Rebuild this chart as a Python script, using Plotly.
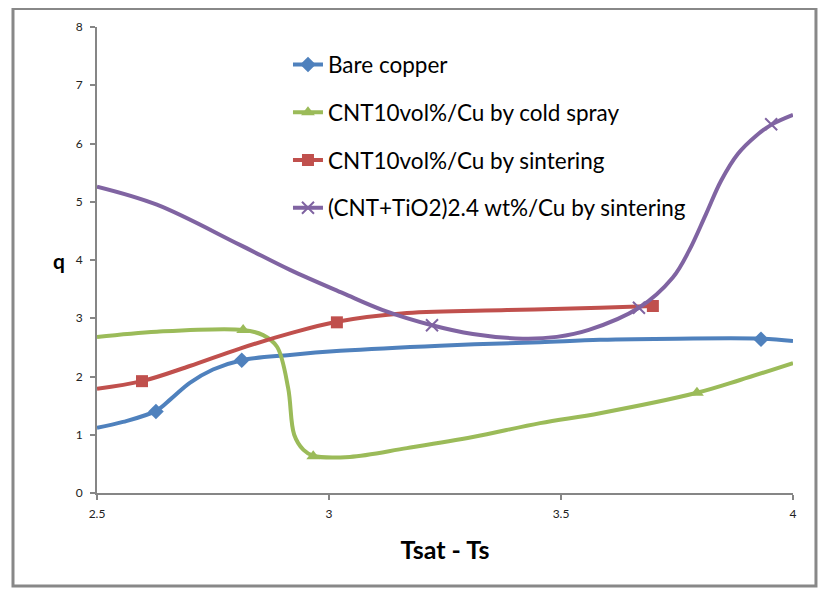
import plotly.graph_objects as go

# ---- data ----
series_names = ["Bare copper", "CNT10vol%/Cu by cold spray",
                "CNT10vol%/Cu by sintering", "(CNT+TiO2)2.4 wt%/Cu by sintering"]

# smoothed curves (sampled along the drawn lines)
blue_x = [2.5, 2.556, 2.627, 2.66, 2.70, 2.75, 2.812, 2.916, 3.024, 3.239, 3.455, 3.584, 3.75, 3.931, 4.0]
blue_y = [1.12, 1.22, 1.41, 1.62, 1.89, 2.12, 2.28, 2.37, 2.44, 2.53, 2.59, 2.63, 2.65, 2.65, 2.61]

green_x = [2.5, 2.629, 2.815, 2.858, 2.888, 2.912, 2.925, 2.945, 2.966, 3.045, 3.168, 3.310, 3.455, 3.584, 3.793, 3.886, 4.0]
green_y = [2.68, 2.77, 2.80, 2.71, 2.51, 1.80, 1.00, 0.74, 0.64, 0.62, 0.77, 0.96, 1.20, 1.37, 1.72, 1.94, 2.23]

red_x = [2.5, 2.597, 2.70, 2.808, 2.916, 3.017, 3.168, 3.384, 3.584, 3.698]
red_y = [1.79, 1.92, 2.18, 2.48, 2.74, 2.94, 3.09, 3.14, 3.18, 3.21]

purple_x = [2.5, 2.629, 2.808, 2.916, 3.03, 3.116, 3.222, 3.310, 3.418, 3.491, 3.56, 3.668,
            3.741, 3.776, 3.812, 3.845, 3.881, 3.92, 3.953, 4.0]
purple_y = [5.26, 4.95, 4.26, 3.83, 3.43, 3.14, 2.88, 2.73, 2.65, 2.68, 2.80, 3.18,
            3.70, 4.16, 4.78, 5.36, 5.82, 6.13, 6.32, 6.49]

# data-point markers
blue_mx, blue_my = [2.627, 2.812, 3.931], [1.40, 2.28, 2.64]
green_mx, green_my = [2.815, 2.966, 3.793], [2.80, 0.63, 1.72]
red_mx, red_my = [2.597, 3.017, 3.698], [1.92, 2.93, 3.21]
purple_mx, purple_my = [3.222, 3.668, 3.953], [2.88, 3.18, 6.33]

x_ticks = [2.5, 3, 3.5, 4]
x_tick_labels = ["2.5", "3", "3.5", "4"]
y_ticks = [0, 1, 2, 3, 4, 5, 6, 7, 8]

colors = ["#4F81BD", "#9BBB59", "#C0504D", "#8064A2"]
symbols = ["diamond", "triangle-up", "square", "x-thin"]

curves = [(blue_x, blue_y, blue_mx, blue_my),
          (green_x, green_y, green_mx, green_my),
          (red_x, red_y, red_mx, red_my),
          (purple_x, purple_y, purple_mx, purple_my)]

fig = go.Figure()
for i, (cx, cy, mx, my) in enumerate(curves):
    col = colors[i]
    mk = dict(symbol=symbols[i], size=12, color=col,
              line=dict(color=col, width=2 if symbols[i] == "x-thin" else 0))
    fig.add_trace(go.Scatter(x=cx, y=cy, mode="lines", line=dict(color=col, width=4, shape="spline", smoothing=1.0),
                             showlegend=False, legendgroup=f"g{i}", hoverinfo="skip"))
    fig.add_trace(go.Scatter(x=mx, y=my, mode="markers", marker=mk, showlegend=False, legendgroup=f"g{i}"))
    # legend entry
    fig.add_trace(go.Scatter(x=[None], y=[None], mode="lines+markers", name=series_names[i],
                             line=dict(color=col, width=4), marker=mk, legendgroup=f"g{i}"))

axis_common = dict(showgrid=False, zeroline=False, showline=True, linecolor="#868686", linewidth=2,
                   ticks="outside", ticklen=5, tickwidth=2, tickcolor="#868686",
                   tickfont=dict(family="Lato", size=12, color="#222"))

fig.update_layout(
    width=819, height=585,
    margin=dict(l=89, r=34, t=19, b=100),
    paper_bgcolor="white", plot_bgcolor="white",
    xaxis=dict(range=[2.5, 4], tickvals=x_ticks, ticktext=x_tick_labels, ticklabelstandoff=4,
               title=dict(text="<b>Tsat - Ts</b>", font=dict(family="Lato", size=25, color="#000"), standoff=21),
               **axis_common),
    yaxis=dict(range=[0, 8], tickvals=y_ticks, ticklabelstandoff=5, **axis_common),
    legend=dict(x=0.2744, y=0.965, xanchor="left", yanchor="top", bgcolor="rgba(0,0,0,0)",
                font=dict(family="Lato", size=22.5, color="#000"), traceorder="grouped",
                tracegroupgap=15.5, itemwidth=30),
    annotations=[dict(text="<b>q</b>", xref="paper", yref="paper", x=-0.0546, y=0.498,
                      showarrow=False, xanchor="center", yanchor="middle",
                      font=dict(family="Lato", size=21, color="#000"))],
    shapes=[dict(type="rect", xref="paper", yref="paper", x0=-0.1207, x1=1.033, y0=-0.1996, y1=1.0397,
                 line=dict(color="#888888", width=3), fillcolor="rgba(0,0,0,0)", layer="below")],
)

fig.write_html("out.html")
